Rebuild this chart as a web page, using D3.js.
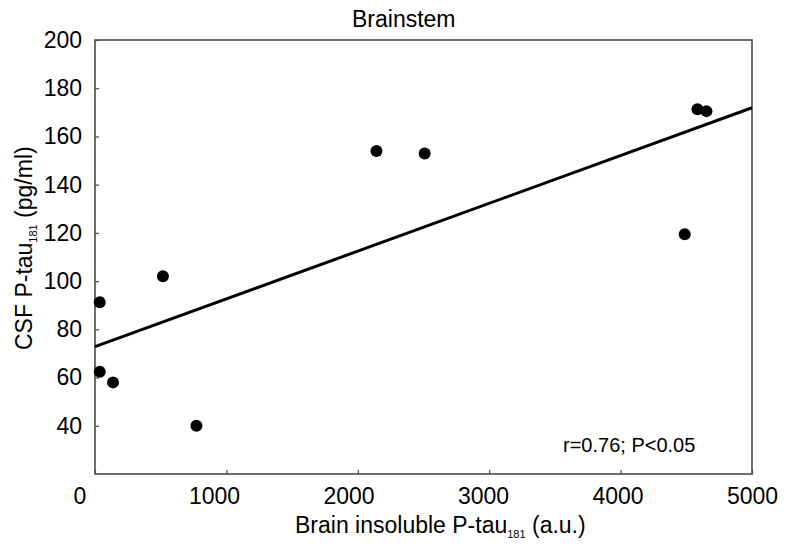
<!DOCTYPE html>
<html lang="en">
<head>
    <meta charset="UTF-8" />
    <title>Brainstem</title>
    <script src="https://d3js.org/d3.v7.min.js"></script>
    <style>
        body { margin: 0; background: #fff; }
        text { font-family: "Liberation Sans", Arial, sans-serif; fill: #000; }
        .frame { fill: none; stroke: #4a4a4a; stroke-width: 1.6px; }
        .tick line { stroke: #4a4a4a; stroke-width: 1.2px; }
        .dot { fill: #000; }
        .fit { stroke: #000; stroke-width: 3px; fill: none; }
    </style>
</head>
<body>
    <script>
        // data
        const brainTau = [36, 36, 137, 517, 772, 2142, 2509, 4488, 4585, 4653];
        const csfTau   = [91.2, 62.4, 58.0, 102.0, 40.0, 154.0, 152.9, 119.4, 171.3, 170.5];
        const fitX = [0, 5000];
        const fitY = [72.8, 171.9];
        const xTicks = [0, 1000, 2000, 3000, 4000, 5000];
        const yTicks = [40, 60, 80, 100, 120, 140, 160, 180, 200];
        const stats = "r=0.76; P<0.05";

        const width = 787, height = 546;
        const margin = { top: 40, right: 35, bottom: 72, left: 95 };
        const w = width - margin.left - margin.right;
        const h = height - margin.top - margin.bottom;

        const x = d3.scaleLinear().domain([0, 5000]).range([0, w]);
        const y = d3.scaleLinear().domain([20, 200]).range([h, 0]);
        // tick labels sit a bit off their ticks in the original
        const xLab = d3.scaleLinear().domain([0, 5000]).range([-15.5, w]);

        const svg = d3.select("body").append("svg")
            .attr("width", width).attr("height", height);
        const g = svg.append("g")
            .attr("transform", `translate(${margin.left},${margin.top})`);

        // ticks (inward)
        const xa = g.append("g").attr("transform", `translate(0,${h})`)
            .call(d3.axisBottom(x).tickValues(xTicks).tickSizeInner(-4).tickSizeOuter(0).tickFormat(""));
        xa.select(".domain").remove();
        const xl = g.append("g").attr("transform", `translate(0,${h})`)
            .call(d3.axisBottom(xLab).tickValues(xTicks).tickSize(0).tickPadding(14).tickFormat(d3.format("d")));
        xl.select(".domain").remove();
        xl.selectAll("text").style("font-size", "23px").attr("dy", "0.71em");

        const ya = g.append("g")
            .call(d3.axisLeft(y).tickValues(yTicks).tickSizeInner(-4).tickSizeOuter(0).tickPadding(13));
        ya.select(".domain").remove();
        ya.selectAll("text").style("font-size", "23px");

        g.append("rect").attr("class", "frame")
            .attr("x", 0).attr("y", 0).attr("width", w).attr("height", h);

        // regression line
        g.append("path").attr("class", "fit")
            .attr("d", d3.line().x(d => x(d[0])).y(d => y(d[1]))(d3.zip(fitX, fitY)));

        // points
        g.selectAll(".dot").data(d3.zip(brainTau, csfTau)).enter()
            .append("circle").attr("class", "dot")
            .attr("cx", d => x(d[0])).attr("cy", d => y(d[1])).attr("r", 6);

        g.append("text").attr("x", 468).attr("y", 412)
            .style("font-size", "20px").text(stats);

        svg.append("text").attr("x", 352).attr("y", 27)
            .style("font-size", "23px").text("Brainstem");

        const xt = svg.append("text").attr("x", 295).attr("y", 533).style("font-size", "23px");
        xt.append("tspan").text("Brain insoluble P-tau");
        xt.append("tspan").attr("dy", 5).style("font-size", "11px").text("181");
        xt.append("tspan").attr("dy", -5).text(" (a.u.)");

        const yt = svg.append("text").attr("transform", "translate(32,350) rotate(-90)")
            .style("font-size", "23px");
        yt.append("tspan").text("CSF P-tau");
        yt.append("tspan").attr("dy", 5).style("font-size", "11px").text("181");
        yt.append("tspan").attr("dy", -5).text(" (pg/ml)");
    </script>
</body>
</html>
